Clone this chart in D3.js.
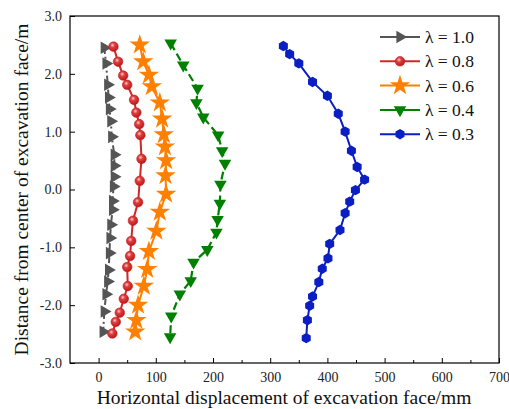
<!DOCTYPE html>
<html><head><meta charset="utf-8">
<script src="https://cdn.jsdelivr.net/npm/d3@7"></script>
<style>
body{margin:0;background:#fff;}
svg text{font-family:"Liberation Serif","Times New Roman",serif;}
</style></head>
<body><svg id="c" width="509" height="409"></svg>
<script>
const xTicks = [0,100,200,300,400,500,600,700];
const xMinor = [50,150,250,350,450,550,650];
const yTicks = [-3,-2,-1,0,1,2,3];
const labels = ["λ = 1.0","λ = 0.8","λ = 0.6","λ = 0.4","λ = 0.3"];

const x10 = [10,13,16,17.5,19,21.5,23,27.5,27.5,27.5,26,24.5,24.5,21.5,20,19,17.5,16,13,10,8];
const y10 = [2.45,2.18,1.81,1.59,1.39,1.18,0.91,0.60,0.41,0.22,0.05,-0.20,-0.35,-0.61,-0.84,-1.10,-1.39,-1.59,-1.81,-2.11,-2.46];
const x08 = [26,34,43,50,62,66,71,73,75,72,69,60,57,55,50,51,44,37,30,24];
const y08 = [2.47,2.21,1.97,1.81,1.55,1.33,1.13,0.94,0.53,0.15,-0.22,-0.54,-0.89,-1.15,-1.34,-1.67,-1.89,-2.13,-2.29,-2.49];
const x06 = [72,78,88,93,107,111,114,116,118,117,118,107,101,88,85,79,69,66,64];
const y06 = [2.50,2.21,1.98,1.78,1.50,1.22,0.95,0.74,0.50,0.24,-0.08,-0.39,-0.72,-1.07,-1.38,-1.67,-2.00,-2.26,-2.46];
const x04 = [126,148,173,171,183,209,216,221,213,212,208,206,190,166,161,142,127,125];
const y04 = [2.53,2.15,1.75,1.50,1.25,0.94,0.67,0.45,0.09,-0.24,-0.52,-0.74,-1.04,-1.26,-1.58,-1.81,-2.19,-2.55];
const x03 = [323,334,350,374,400,419,431,442,452,465,449,439,431,422,404,401,391,385,374,369,365,363];
const y03 = [2.48,2.34,2.18,1.86,1.62,1.31,1.00,0.67,0.39,0.17,-0.01,-0.21,-0.41,-0.70,-0.94,-1.19,-1.37,-1.60,-1.85,-2.01,-2.26,-2.57];

const svg = d3.select("#c");
const L=70,R=499,T=16,B=363;
const x = d3.scaleLinear().domain([-50,700]).range([L,R]);
const y = d3.scaleLinear().domain([-3,3]).range([B,T]);

const defs = svg.append("defs");
const g = defs.append("radialGradient").attr("id","ball").attr("cx","40%").attr("cy","35%").attr("r","65%");
g.append("stop").attr("offset","0%").attr("stop-color","#ffd0d0");
g.append("stop").attr("offset","35%").attr("stop-color","#e04040");
g.append("stop").attr("offset","100%").attr("stop-color","#b81818");

const fmtY = d => (d<0?"-":"") + Math.abs(d).toFixed(1);

const ax = svg.append("g").attr("transform",`translate(0,${B})`)
  .call(d3.axisBottom(x).tickValues(xTicks).tickSize(-5).tickPadding(9).tickFormat(d3.format("d")));
const axm = svg.append("g").attr("transform",`translate(0,${B})`)
  .call(d3.axisBottom(x).tickValues(xMinor).tickSize(-3).tickFormat(""));
const ay = svg.append("g").attr("transform",`translate(${L},0)`)
  .call(d3.axisLeft(y).tickValues(yTicks).tickSize(-5).tickPadding(8).tickFormat(fmtY));
[ax,ay].forEach(a=>{a.selectAll("text").attr("font-size",14).attr("fill","#222").style("font-family","'Liberation Serif',serif");});
svg.selectAll(".domain").remove();
svg.selectAll(".tick line").attr("stroke","#000").attr("stroke-width",1);
svg.append("rect").attr("x",L).attr("y",T).attr("width",R-L).attr("height",B-T)
  .attr("fill","none").attr("stroke","#000").attr("stroke-width",1.2);

const tri = d3.symbol().type(d3.symbolTriangle).size(68);
const hex = (r)=>{const p=[];for(let i=0;i<6;i++){const a=Math.PI/3*i+Math.PI/6;p.push([r*Math.cos(a),r*Math.sin(a)]);}return "M"+p.join("L")+"Z";};
const star = d3.symbol().type(d3.symbolStar).size(130);

const series = [
 {xs:x10, ys:y10, color:"#555555", dash:"6,3,2,3", width:2, mark:(s)=>s.append("path").attr("d",tri()).attr("transform","rotate(90)").attr("fill","#555555")},
 {xs:x08, ys:y08, color:"#d02828", dash:null, width:2, mark:(s)=>s.append("circle").attr("r",4.8).attr("fill","url(#ball)").attr("stroke","#c42020").attr("stroke-width",0.6)},
 {xs:x06, ys:y06, color:"#ff8000", dash:null, width:2, mark:(s)=>s.append("path").attr("d",star()).attr("fill","#ff8000")},
 {xs:x04, ys:y04, color:"#008000", dash:"8,4", width:2.2, mark:(s)=>s.append("path").attr("d",tri()).attr("transform","rotate(180)").attr("fill","#008000")},
 {xs:x03, ys:y03, color:"#0a1ec4", dash:null, width:2, mark:(s)=>s.append("path").attr("d",hex(5.2)).attr("fill","#0a1ec4")}
];

const line = d3.line().x(d=>x(d[0])).y(d=>y(d[1]));
series.forEach(s=>{
  const pts = s.xs.map((v,i)=>[v,s.ys[i]]);
  svg.append("path").datum(pts).attr("d",line).attr("fill","none")
    .attr("stroke",s.color).attr("stroke-width",s.width).attr("stroke-dasharray",s.dash);
  svg.append("g").selectAll("g").data(pts).join("g")
    .attr("transform",d=>`translate(${x(d[0])},${y(d[1])})`)
    .each(function(){s.mark(d3.select(this));});
});

const lg = svg.append("g");
series.forEach((s,i)=>{
  const yy = 37 + i*24.3;
  lg.append("line").attr("x1",380).attr("x2",420).attr("y1",yy).attr("y2",yy)
    .attr("stroke",s.color).attr("stroke-width",2);
  const m = lg.append("g").attr("transform",`translate(400,${yy})`);
  s.mark(m);
  lg.append("text").attr("x",425).attr("y",yy).attr("dy","0.35em").attr("font-size",17.5)
    .attr("fill","#111").text(labels[i]);
});

svg.append("text").attr("x",284).attr("y",404).attr("text-anchor","middle")
  .attr("font-size",19.5).attr("fill","#111").text("Horizontal displacement of excavation face/mm");
svg.append("text").attr("transform",`translate(28,${(T+B)/2}) rotate(-90)`).attr("text-anchor","middle")
  .attr("font-size",19.5).attr("fill","#111").text("Distance from center of excavation face/m");
</script></body></html>
